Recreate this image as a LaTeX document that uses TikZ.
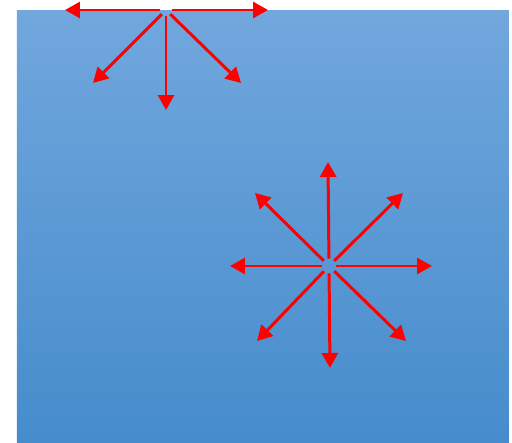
\documentclass[tikz,border=0pt]{standalone}
\usepackage{tikz}
\usetikzlibrary{arrows.meta}
\definecolor{bgtop}{RGB}{113,167,221}
\definecolor{bgbot}{RGB}{70,140,204}
\begin{document}
\begin{tikzpicture}[
  x=0.02cm, y=-0.02cm,
  >={Triangle[length=0.3cm, width=0.32cm]},
  ray/.style={->, draw=red, fill=red, line width=1.7pt},
  hub/.style={circle, minimum size=0.22cm, inner sep=0pt},
]
  \useasboundingbox (0,0) rectangle (512,443);
  \shade[top color=bgtop, bottom color=bgbot] (17,10) rectangle (509,443);

  % upper fan
  \node[hub] (top) at (166,10) {};
  \coordinate (topW) at (65,10);
  \coordinate (topE) at (268,10);
  \coordinate (topSW) at (93,83);
  \coordinate (topS) at (166,110);
  \coordinate (topSE) at (241,83);

  \draw[ray] (top) -- (topW);
  \draw[ray] (top) -- (topE);
  \draw[ray] (top) -- (topSW);
  \draw[ray] (top) -- (topS);
  \draw[ray] (top) -- (topSE);

  % lower star
  \node[hub, minimum size=0.28cm] (mid) at (329,266) {};
  \coordinate (midN) at (328,162);
  \coordinate (midS) at (330,368);
  \coordinate (midW) at (230,266);
  \coordinate (midE) at (432,266);
  \coordinate (midNW) at (255,193);
  \coordinate (midNE) at (403,193);
  \coordinate (midSW) at (257,341);
  \coordinate (midSE) at (406,341);

  \draw[ray] (mid) -- (midN);
  \draw[ray] (mid) -- (midS);
  \draw[ray] (mid) -- (midW);
  \draw[ray] (mid) -- (midE);
  \draw[ray] (mid) -- (midNW);
  \draw[ray] (mid) -- (midNE);
  \draw[ray] (mid) -- (midSW);
  \draw[ray] (mid) -- (midSE);
\end{tikzpicture}
\end{document}
